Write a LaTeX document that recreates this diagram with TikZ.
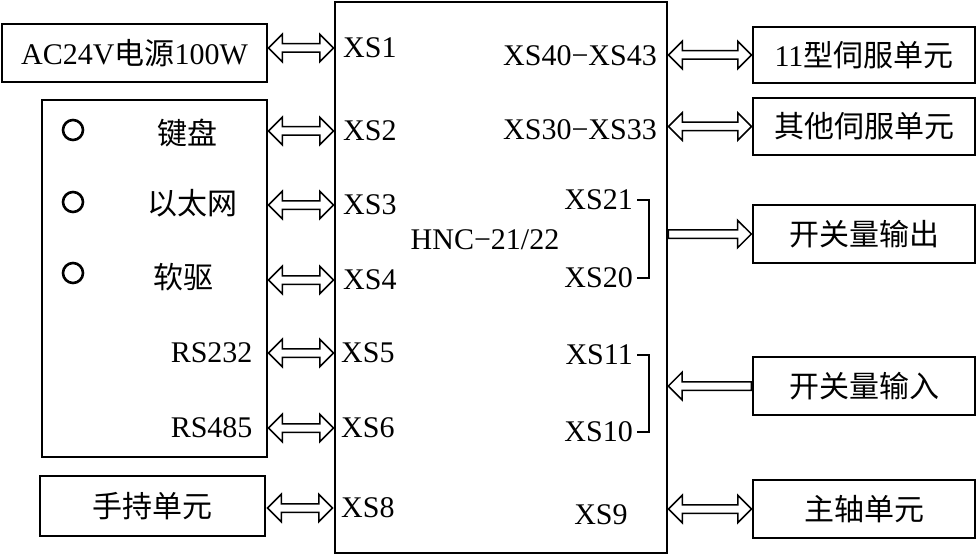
\documentclass[tikz,border=0pt]{standalone}
\usepackage{fontspec}
\setmainfont{Liberation Serif}
\newfontfamily\cjk{Noto Sans CJK SC}
\usetikzlibrary{shapes.arrows, positioning}

\tikzset{
  unit/.style={draw, line width=2.6pt, inner sep=0pt},
  port/.style={inner sep=1pt},
  biarrow/.style={double arrow, draw, line width=1.5pt, inner sep=3.5pt, outer sep=0pt,
    double arrow head extend=9.5pt, double arrow tip angle=90},
  uniarrow/.style={single arrow, draw, line width=1.5pt, inner sep=3.5pt, outer sep=0pt,
    single arrow head extend=9.5pt, single arrow tip angle=90},
  leftlink/.style={minimum height=65pt},
  rightlink/.style={minimum height=83pt},
}

\begin{document}
\begin{tikzpicture}[x=1pt, y=-1pt, every node/.style={font=\fontsize{30}{32}\selectfont}]
\useasboundingbox (0,0) rectangle (979,556);

	% central controller
	\node[unit, minimum width=332pt, minimum height=551pt] (hnc) at (501,277.5) {};
	\node (name) at (485,240) {HNC−21/22};

	% left side
	\node[unit, minimum width=265pt, minimum height=58pt] (power) at (134.5,53) {AC24V{\cjk 电源}100W};
	\node[unit, minimum width=225pt, minimum height=357pt] (panel) at (154.5,278.5) {};
	\node[unit, minimum width=225pt, minimum height=60pt] (handheld) at (152.5,506) {\cjk 手持单元};

	\node[draw, circle, line width=2.6pt, minimum size=20pt, inner sep=0pt] (c1) at (73,130) {};
	\node[draw, circle, line width=2.6pt, minimum size=20pt, inner sep=0pt] (c2) at (73,202) {};
	\node[draw, circle, line width=2.6pt, minimum size=20pt, inner sep=0pt] (c3) at (73,273) {};
	\node (keyboard) at (187,133) {\cjk 键盘};
	\node (ethernet) at (192,203) {\cjk 以太网};
	\node (floppy) at (183,277) {\cjk 软驱};
	\node[anchor=east] (rs232) at (256,353) {RS232};
	\node[anchor=east] (rs485) at (256,428) {RS485};

	\node[port, anchor=west] (xs1) at (342,48) {XS1};
	\node[port, anchor=west] (xs2) at (342,131) {XS2};
	\node[port, anchor=west] (xs3) at (342,205) {XS3};
	\node[port, anchor=west] (xs4) at (342,280) {XS4};
	\node[port, anchor=west] (xs5) at (340,353) {XS5};
	\node[port, anchor=west] (xs6) at (340,428) {XS6};
	\node[port, anchor=west] (xs8) at (340,508) {XS8};

	% right side
	\node[port, anchor=east] (xs40) at (658,56) {XS40−XS43};
	\node[port, anchor=east] (xs30) at (658,130) {XS30−XS33};
	\node[port, anchor=east] (xs21) at (634,200) {XS21};
	\node[port, anchor=east] (xs20) at (634,278) {XS20};
	\node[port, anchor=east] (xs11) at (634,355) {XS11};
	\node[port, anchor=east] (xs10) at (634,432) {XS10};
	\node[port] (xs9) at (601,515) {XS9};

	\node[unit, minimum width=222pt, minimum height=56pt] (servo11) at (864,55) {11{\cjk 型伺服单元}};
	\node[unit, minimum width=222pt, minimum height=57pt] (servo) at (864,126.5) {\cjk 其他伺服单元};
	\node[unit, minimum width=222pt, minimum height=58pt] (dout) at (864,234) {\cjk 开关量输出};
	\node[unit, minimum width=222pt, minimum height=58pt] (din) at (864,386) {\cjk 开关量输入};
	\node[unit, minimum width=222pt, minimum height=58pt] (spindle) at (864,509) {\cjk 主轴单元};

	% brackets
	\draw[line width=1.5pt] ([xshift=3pt]xs21.east) -- (649,200) -- (649,278) -- ([xshift=3pt]xs20.east);
	\draw[line width=1.5pt] ([xshift=3pt]xs11.east) -- (649,355) -- (649,432) -- ([xshift=3pt]xs10.east);

	% links
	\path (power.east |- xs1) -- (hnc.west |- xs1) node[midway, biarrow, leftlink] {};
	\path (panel.east |- xs2) -- (hnc.west |- xs2) node[midway, biarrow, leftlink] {};
	\path (panel.east |- xs3) -- (hnc.west |- xs3) node[midway, biarrow, leftlink] {};
	\path (panel.east |- xs4) -- (hnc.west |- xs4) node[midway, biarrow, leftlink] {};
	\path (panel.east |- xs5) -- (hnc.west |- xs5) node[midway, biarrow, leftlink] {};
	\path (panel.east |- xs6) -- (hnc.west |- xs6) node[midway, biarrow, leftlink] {};
	\path (handheld.east |- xs8) -- (hnc.west |- xs8) node[midway, biarrow, leftlink] {};
	\path (hnc.east |- servo11) -- (servo11.west) node[midway, biarrow, rightlink] {};
	\path (hnc.east |- servo) -- (servo.west) node[midway, biarrow, rightlink] {};
	\path (hnc.east |- dout) -- (dout.west) node[pos=0, anchor=tail, uniarrow, rightlink] {};
	\path (din.west) -- (hnc.east |- din) node[pos=1, anchor=tip, uniarrow, rightlink, shape border rotate=180] {};
	\path (hnc.east |- spindle) -- (spindle.west) node[midway, biarrow, rightlink] {};
\end{tikzpicture}
\end{document}
